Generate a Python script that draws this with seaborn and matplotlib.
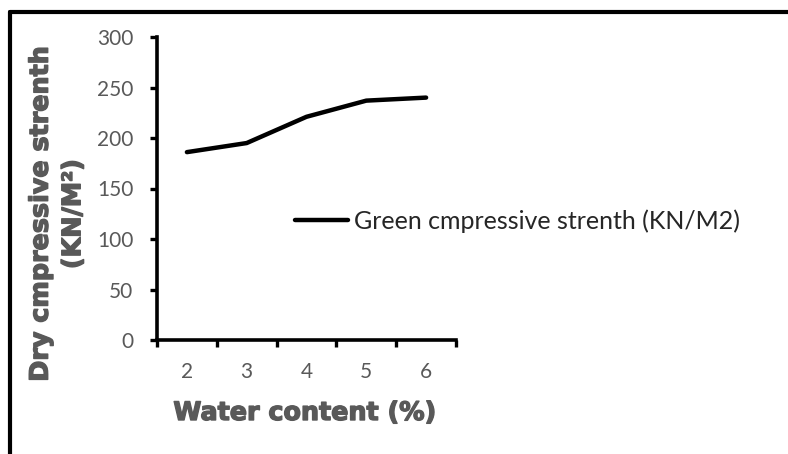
import matplotlib
matplotlib.use("Agg")
import matplotlib.pyplot as plt
import matplotlib.patheffects as pe
from matplotlib.lines import Line2D
import seaborn as sns
import pandas as pd

water_content = ["2", "3", "4", "5", "6"]
strength = [186, 195, 221, 237, 240]
series_name = "Green cmpressive strenth (KN/M2)"

sns.set_theme(style="white")
plt.rcParams["font.family"] = ["Lato", "DejaVu Sans"]

W, H = 788, 454
fig = plt.figure(figsize=(W / 100, H / 100), dpi=100)
ax = fig.add_axes([157 / W, 1 - 340 / H, (456 - 157) / W, (340 - 37) / H])

df = pd.DataFrame({"pos": range(len(water_content)), "strength": strength})
sns.lineplot(data=df, x="pos", y="strength", ax=ax, color="black",
             linewidth=3.2, label=series_name, solid_capstyle="round",
             solid_joinstyle="round")

grey = "#595959"
ax.set_xlim(-0.5, len(water_content) - 0.5)
ax.set_ylim(0, 300)
ax.set_yticks(range(0, 301, 50))
ax.tick_params(axis="y", direction="out", length=5, width=2.4, color="black",
               labelsize=15, labelcolor=grey, pad=12, left=True)
ax.set_xticks([i - 0.5 for i in range(len(water_content) + 1)])
ax.set_xticklabels([])
ax.tick_params(axis="x", which="major", direction="out", length=5, width=2.4,
               color="black", bottom=True)
ax.set_xticks(range(len(water_content)), minor=True)
ax.set_xticklabels(water_content, minor=True)
ax.tick_params(axis="x", which="minor", length=0, labelsize=15,
               labelcolor=grey, pad=16)

for side in ["top", "right"]:
    ax.spines[side].set_visible(False)
for side in ["left", "bottom"]:
    ax.spines[side].set_color("black")
    ax.spines[side].set_linewidth(2.6)

ax.set_xlabel("")
ax.set_ylabel("")
heavy = [pe.withStroke(linewidth=1.0, foreground=grey)]
title_font = dict(family="DejaVu Sans", fontsize=18.3, fontweight="bold",
                  color=grey, path_effects=heavy)
fig.text(305 / W, 1 - 413 / H, "Water content (%)", ha="center", va="center",
         **title_font)
fig.text(57 / W, 1 - 214 / H, "Dry cmpressive strenth\n(KN/M²)", ha="center",
         va="center", rotation=90, linespacing=1.45, multialignment="center",
         **title_font)

ax.legend(loc="center left", bbox_to_anchor=((295 - 157) / (456 - 157), (340 - 221) / 303),
          frameon=False, fontsize=18, handlelength=2.1, handletextpad=0.28,
          borderpad=0, borderaxespad=0)

# Chart border (left and top edges)
fig.add_artist(Line2D([10 / W, 10 / W], [0, 1 - 11.5 / H], transform=fig.transFigure,
                      color="black", linewidth=3))
fig.add_artist(Line2D([10 / W, 1], [1 - 11.5 / H, 1 - 11.5 / H], transform=fig.transFigure,
                      color="black", linewidth=3))

fig.savefig("out.png", dpi=100)
